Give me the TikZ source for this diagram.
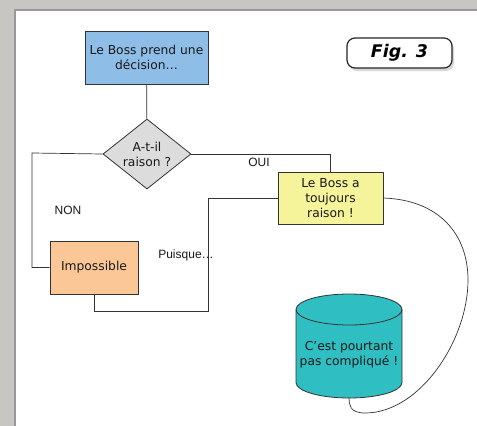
\documentclass[tikz,border=0pt]{standalone}
\usepackage{fontspec}
\setmainfont{DejaVu Sans}
\newfontfamily\labelfont{Liberation Sans}
\usetikzlibrary{shapes.geometric,shadows}
\definecolor{bossblue}{RGB}{142,190,232}
\definecolor{bosspeach}{RGB}{252,199,151}
\definecolor{bossyellow}{RGB}{245,244,155}
\definecolor{bossteal}{RGB}{47,190,193}
\definecolor{bossgray}{RGB}{220,220,220}
\definecolor{pagegray}{RGB}{200,198,195}

\begin{document}
\begin{tikzpicture}[x=1pt, y=-1pt,
	box/.style={draw=black!80, line width=0.8pt, align=center, inner sep=0pt,
		font=\fontsize{12.3}{15}\selectfont, text=black!90},
	link/.style={draw=black!80, line width=0.7pt},
	tag/.style={font=\labelfont\fontsize{12}{14}\selectfont, text=black!90},
	cylend/.style={x radius=53pt, y radius=15.5pt}]
	%page
	\useasboundingbox (0,0) rectangle (477,426);
	\fill[pagegray] (0,0) rectangle (477,426);
	\fill[white] (16,11) rectangle (477,426);
	\draw[black!40, line width=1.2pt] (15,426) -- (15,10) -- (477,10);
	%boxes
	\node[box, fill=bossblue, minimum width=123pt, minimum height=53pt] (decision)
		at (146.5,57.5) {Le Boss prend une\\d\'ecision\ldots};
	\node[box, diamond, aspect=1.25, fill=bossgray, minimum width=88pt, minimum height=70pt] (question)
		at (147,154) {A-t-il\\raison ?};
	\node[box, fill=bosspeach, minimum width=88pt, minimum height=53pt] (impossible)
		at (94,267.5) {Impossible};
	\node[box, fill=bossyellow, minimum width=105pt, minimum height=52pt] (always)
		at (330.5,198) {Le Boss a\\toujours\\raison !};
	%cylinder
	\filldraw[fill=bossteal, draw=black!80, line width=0.8pt] (296,309.5) -- (296,382.5)
		arc[start angle=180, end angle=360, cylend] -- (402,309.5)
		arc[start angle=0, end angle=180, cylend] -- cycle;
	\draw[black!80, line width=0.8pt] (296,309.5) arc[start angle=180, end angle=360, cylend];
	\node[box, draw=none] (simple) at (349,355) {C'est pourtant\\pas compliqu\'e !};
	\coordinate (simplebase) at (349,398);
	%fig tag
	\node[draw=black!85, line width=1.2pt, rounded corners=8pt, fill=white,
		drop shadow={shadow xshift=2pt, shadow yshift=-3pt, fill=black!30},
		minimum width=105pt, minimum height=30pt,
		font=\fontsize{17.4}{20}\selectfont\bfseries\itshape] (fig) at (399.5,53) {Fig. 3};
	%links
	\coordinate (nonturn) at (32,153);
	\coordinate (puisqueturn) at (208,311);
	\draw[link] (decision) -- (question);
	\draw[link] (question.west) -- (nonturn) |- (impossible.west);
	\draw[link] (question.east) -| (always.north);
	\draw[link] (impossible.south) |- (puisqueturn) |- (always.west);
	\draw[link] (always.east) .. controls (440,200) and (468,235) .. (468,280)
		.. controls (468,340) and (420,413) .. (365,413)
		.. controls (350,413) and (349,405) .. (simplebase);
	%labels
	\node[tag] (non) at (68,210) {NON};
	\node[tag] (oui) at (259,162) {OUI};
	\node[tag] (puisque) at (186,255) {Puisque\ldots};
\end{tikzpicture}
\end{document}
